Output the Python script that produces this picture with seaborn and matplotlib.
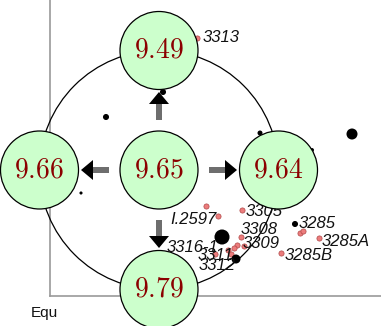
import numpy as np
import pandas as pd
import matplotlib
matplotlib.use("Agg")
import matplotlib.pyplot as plt
import seaborn as sns
from matplotlib.patches import Circle, Polygon

sns.set_style("white")
plt.rcParams["font.family"] = ["Liberation Sans", "DejaVu Sans"]
plt.rcParams["mathtext.fontset"] = "cm"

# ---- data (scatter) ----
pink_x = [147, 156, 168, 192, 191, 194, 187, 184, 178, 181, 165, 250, 253, 269, 231]
pink_y = [258, 90, 80, 86, 59, 50, 51, 48, 46, 42, 42, 63, 65, 58, 43]

black_x = [56, 113, 210, 302, 31, 262, 172, 186, 245]
black_y = [179, 204, 163, 162, 103, 146, 59, 37, 72]
black_w = [19, 19, 13, 63, 5, 8, 117, 42, 19]

labels = ["3313", "I.2597", "3305", "3308", "3309", "3285", "3285A", "3285B",
          "3316-1", "3311", "3312"]
label_x = [153, 120, 196, 191, 193, 249, 272, 235, 117, 148, 149]
label_y = [258, 77, 84, 66, 52, 73, 55, 40, 48, 40, 31]

# ---- data (diagram) ----
node_values = ["9.65", "9.49", "9.66", "9.64", "9.79"]
node_dirs = [(0, 0), (0, 1), (-1, 0), (1, 0), (0, -1)]

pink_df = pd.DataFrame({"x": pink_x, "y": pink_y})
black_df = pd.DataFrame({"x": black_x, "y": black_y, "w": black_w})

fig = plt.figure(figsize=(3.81, 3.26), dpi=100)
ax = fig.add_axes([50 / 381, 30 / 326, 331 / 381, 296 / 326])
ax.set_xlim(0, 331)
ax.set_ylim(0, 296)

# big ring
cx, cy, R, r = 109, 126, 119.5, 39
ax.add_patch(Circle((cx, cy), R, fill=False, ec="black", lw=0.9, clip_on=False, zorder=2))

sns.scatterplot(data=pink_df, x="x", y="y", ax=ax, color="#ec7c7c", edgecolor="#b04848",
                linewidth=0.5, s=14, legend=False, zorder=3, clip_on=False)
sns.scatterplot(data=black_df, x="x", y="y", size="w",
                sizes={v: v for v in set(black_w)}, ax=ax, color="black",
                edgecolor="black", linewidth=0, legend=False, zorder=3, clip_on=False)

for t, x, y in zip(labels, label_x, label_y):
    ax.text(x, y, t, ha="left", va="center", fontsize=12, style="italic",
            color="#111111", zorder=4, clip_on=False)

# arrows
for dx, dy in node_dirs[1:]:
    px, py = -dy, dx
    s0, s1, h0, h1 = 50, 68, 66, 78
    w, hw = 3, 10
    shaft = [(cx + dx * s0 + px * w, cy + dy * s0 + py * w),
             (cx + dx * s1 + px * w, cy + dy * s1 + py * w),
             (cx + dx * s1 - px * w, cy + dy * s1 - py * w),
             (cx + dx * s0 - px * w, cy + dy * s0 - py * w)]
    ax.add_patch(Polygon(shaft, closed=True, fc="#6e6e6e", ec="none", zorder=5, clip_on=False))
    head = [(cx + dx * h0 + px * hw, cy + dy * h0 + py * hw),
            (cx + dx * h1, cy + dy * h1),
            (cx + dx * h0 - px * hw, cy + dy * h0 - py * hw)]
    ax.add_patch(Polygon(head, closed=True, fc="black", ec="none", zorder=5, clip_on=False))

# nodes
for v, (dx, dy) in zip(node_values, node_dirs):
    nx, ny = cx + dx * R, cy + dy * R
    ax.add_patch(Circle((nx, ny), r, fc="#ccffcc", ec="black", lw=0.9, zorder=6, clip_on=False))
    ax.text(nx, ny, "$" + v + "$", ha="center", va="center", fontsize=20,
            color="#8b0000", zorder=7, clip_on=False)

ax.set_xticks([])
ax.set_yticks([])
ax.set_xlabel("")
ax.set_ylabel("")
for side in ["top", "right"]:
    ax.spines[side].set_visible(False)
for side in ["left", "bottom"]:
    ax.spines[side].set_color("#999999")
    ax.spines[side].set_linewidth(1.2)
    ax.spines[side].set_zorder(1)

fig.text(31 / 381, 1 - 313 / 326, "Equ", ha="left", va="center", fontsize=11, color="#111111")

fig.savefig("out.png", dpi=100)
